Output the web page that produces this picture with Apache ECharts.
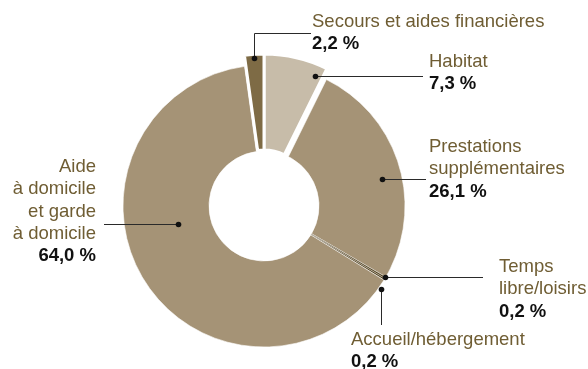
<!DOCTYPE html>
<html><head><meta charset="utf-8">
<script src="https://cdn.jsdelivr.net/npm/echarts@6/dist/echarts.min.js"></script>
<style>html,body{margin:0;padding:0;background:#fff}#c{width:588px;height:369px}</style>
</head><body><div id="c"></div>
<script>
// ---- data ----
const categories = ['Habitat', 'Prestations supplémentaires', 'Temps libre/loisirs', 'Accueil/hébergement', 'Aide à domicile et garde à domicile', 'Secours et aides financières'];
const values = [7.3, 26.1, 0.2, 0.2, 64.0, 2.2];
const valueLabels = ['7,3 %', '26,1 %', '0,2 %', '0,2 %', '64,0 %', '2,2 %'];
const nameLines = [['Habitat'], ['Prestations', 'supplémentaires'], ['Temps', 'libre/loisirs'], ['Accueil/hébergement'], ['Aide', 'à domicile', 'et garde', 'à domicile'], ['Secours et aides financières']];
const exploded = [true, false, false, false, false, true];

// ---- styles / layout ----
const sliceColors = ['#c7bca9', '#a59376', '#4f3f1c', '#4f3f1c', '#a59376', '#7e6b45'];
const borderW = [0, 0.6, 0.35, 0.35, 0.6, 0];
const C = [264, 206], E = [264, 196];
const R_IN = 55, R_OUT = 141, R_IN_EX = 46, R_OUT_EX = 142;
const nameColor = '#6f5d33';
const FONT = '"Liberation Sans", Arial, Helvetica, sans-serif';
const FS = 18.5, LH = 22.3;
// per slice annotation layout: anchor fraction in slice, radius, angle tweak, leader path, text pos
const ann = [
  {frac: 0.875, r: 130, dA: 0, path: 'h', to: 423, tx: 429, ty: 62, align: 'left'},
  {frac: 0.54, r: 121, dA: 0, path: 'h', to: 426, tx: 429, ty: 147, align: 'left'},
  {frac: 0.5, r: 140, dA: 0, path: 'h', to: 483, tx: 499, ty: 267, align: 'left'},
  {frac: 0.5, r: 143, dA: 4, path: 'v', to: 325, tx: 351, ty: 340, align: 'left'},
  {frac: 0.593, r: 88, dA: 0, path: 'h', to: 104, tx: 96, ty: 167, align: 'right'},
  {frac: 0.5, r: 138, dA: 0, path: 'vh', to: 33, to2: 311, tx: 312, ty: 22, align: 'left'}
];

const total = values.reduce((a, b) => a + b, 0);
const TRANSP = 'rgba(0,0,0,0)';
const mainData = categories.map((c, i) => ({
  name: c, value: values[i],
  itemStyle: exploded[i] ? {color: TRANSP, borderWidth: 0} : {color: sliceColors[i], borderColor: '#fff', borderWidth: borderW[i]}
}));
const exData = categories.map((c, i) => ({
  name: c, value: values[i],
  itemStyle: exploded[i] ? {color: sliceColors[i], borderColor: '#fff', borderWidth: 3} : {color: TRANSP, borderWidth: 0}
}));

function pt(center, r, deg) {
  const a = deg * Math.PI / 180;
  return [center[0] + r * Math.sin(a), center[1] - r * Math.cos(a)];
}

const graphics = [];
let cum = 0;
values.forEach((v, i) => {
  const start = cum / total * 360, span = v / total * 360;
  cum += v;
  const a = ann[i];
  const ang = start + a.frac * span + a.dA;
  const p = pt(exploded[i] ? E : C, a.r, ang);
  const x = Math.round(p[0]), y = Math.round(p[1]);
  let pts;
  if (a.path === 'h') pts = [[x, y + 0.5], [a.to, y + 0.5]];
  else if (a.path === 'v') pts = [[x + 0.5, y], [x + 0.5, a.to]];
  else pts = [[x + 0.5, y], [x + 0.5, a.to + 0.5], [a.to2, a.to + 0.5]];
  graphics.push({type: 'polyline', z: 100, shape: {points: pts}, style: {stroke: '#2a2a2a', lineWidth: 1, fill: null}, silent: true});
  graphics.push({type: 'circle', z: 101, shape: {cx: x + 0.5, cy: y + 0.5, r: 2.8}, style: {fill: '#111'}, silent: true});
  const lines = nameLines[i];
  lines.forEach((t, k) => {
    graphics.push({type: 'text', z: 102, silent: true, style: {
      text: t, x: a.tx, y: a.ty + k * LH, fill: nameColor,
      font: FS + 'px ' + FONT, align: a.align, verticalAlign: 'middle',
      textAlign: a.align, textVerticalAlign: 'middle'}});
  });
  graphics.push({type: 'text', z: 102, silent: true, style: {
    text: valueLabels[i], x: a.tx, y: a.ty + lines.length * LH, fill: '#111',
    font: 'bold ' + FS + 'px ' + FONT, align: a.align, verticalAlign: 'middle',
    textAlign: a.align, textVerticalAlign: 'middle'}});
});

const chart = echarts.init(document.getElementById('c'), null, {renderer: 'canvas'});
chart.setOption({
  animation: false,
  backgroundColor: '#fff',
  series: [
    {type: 'pie', center: C, radius: [R_IN, R_OUT], startAngle: 90, clockwise: true, silent: true,
     label: {show: false}, labelLine: {show: false}, emphasis: {disabled: true}, data: mainData},
    {type: 'pie', center: E, radius: [R_IN_EX, R_OUT_EX], startAngle: 90, clockwise: true, silent: true,
     label: {show: false}, labelLine: {show: false}, emphasis: {disabled: true}, data: exData}
  ],
  graphic: {elements: graphics}
});
</script>
</body></html>
